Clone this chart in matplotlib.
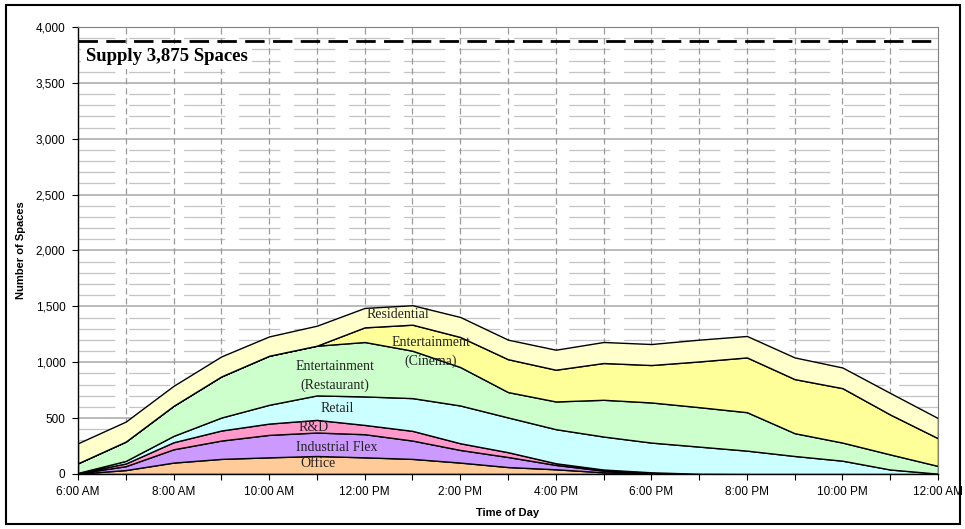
import numpy as np
import matplotlib.pyplot as plt
from matplotlib.patches import Rectangle
from matplotlib.ticker import FuncFormatter, MultipleLocator

# hours from 6 AM (6) to 12 AM (24)
hours = list(range(6, 25))
office = [3, 35, 102, 135, 149, 161, 149, 135, 102, 62, 42, 15, 8, 0, 0, 0, 0, 0, 0]
industrial_flex = [3, 35, 119, 164, 201, 210, 207, 164, 113, 90, 39, 15, 4, 0, 0, 0, 0, 0, 0]
r_and_d = [2, 24, 63, 90, 101, 113, 83, 87, 60, 43, 15, 10, 3, 2, 0, 0, 0, 0, 0]
retail = [2, 23, 57, 116, 168, 219, 255, 293, 338, 311, 305, 295, 266, 243, 209, 161, 119, 40, 3]
ent_restaurant = [86, 173, 269, 368, 439, 445, 487, 424, 344, 227, 248, 329, 359, 353, 344, 204, 162, 135, 69]
ent_cinema = [0, 0, 0, 0, 0, 0, 131, 233, 269, 294, 284, 329, 335, 409, 490, 484, 487, 357, 248]
residential = [179, 179, 179, 179, 173, 179, 174, 174, 179, 175, 179, 188, 188, 195, 192, 194, 185, 193, 180]
supply = 3875

x_labels = ['6:00 AM', '8:00 AM', '10:00 AM', '12:00 PM', '2:00 PM', '4:00 PM',
            '6:00 PM', '8:00 PM', '10:00 PM', '12:00 AM']

colors = ['#FFCC99', '#CC99FF', '#FF99CC', '#CCFFFF', '#CCFFCC', '#FFFF99', '#FFFFCC']

fig = plt.figure(figsize=(9.65, 5.29), dpi=100)
ax = fig.add_axes([0.0808, 0.104, 0.8912, 0.845])

# grid: light broken minor lines every 100, solid gray every 500, dashed verticals each hour
for v in range(100, 4000, 100):
    if v % 500:
        ax.axhline(v, color='#c4c4c4', lw=0.9, ls=(3.5, (33, 11)), zorder=0)
    else:
        ax.axhline(v, color='#a8a8a8', lw=1.1, zorder=0)
for h in hours[1:-1]:
    ax.axvline(h, color='#9a9a9a', lw=0.9, ls=(0, (5, 3)), zorder=0.5)

ax.stackplot(hours, office, industrial_flex, r_and_d, retail, ent_restaurant,
             ent_cinema, residential, colors=colors, edgecolor='black', linewidth=1.0, zorder=2)

ax.axhline(supply, color='black', lw=2, ls=(0, (7, 3)), zorder=3)
ax.text(6.16, 3735, 'Supply 3,875 Spaces', family='Liberation Serif', fontweight='bold',
        fontsize=13.5, va='center', ha='left', zorder=4,
        bbox=dict(facecolor='white', edgecolor='none', pad=3))

lbl = dict(family='Liberation Serif', fontsize=10, ha='center', va='center', color='#222222', zorder=5)
ax.text(11.02, 90, 'Office', **lbl)
ax.text(11.42, 233, 'Industrial Flex', **lbl)
ax.text(10.94, 413, 'R&D', **lbl)
ax.text(11.42, 583, 'Retail', **lbl)
ax.text(11.38, 875, 'Entertainment\n(Restaurant)', linespacing=1.5, **lbl)
ax.text(13.39, 1090, 'Entertainment\n(Cinema)', linespacing=1.5, **lbl)
ax.text(12.69, 1426, 'Residential', **lbl)

ax.set_xlim(6, 24)
ax.set_ylim(0, 4000)
ax.set_xticks(range(6, 25, 2))
ax.set_xticklabels(x_labels)
ax.xaxis.set_minor_locator(MultipleLocator(1))
ax.yaxis.set_major_locator(MultipleLocator(500))
ax.yaxis.set_major_formatter(FuncFormatter(lambda v, p: format(int(v), ',')))
ax.tick_params(axis='both', which='both', direction='out', length=4, width=0.8,
               labelsize=8.5, pad=5)
for t in ax.get_xticklabels() + ax.get_yticklabels():
    t.set_family('Liberation Sans')

ax.set_xlabel('Time of Day', family='Liberation Sans', fontweight='bold', fontsize=8, labelpad=7)
ax.set_ylabel('Number of Spaces', family='Liberation Sans', fontweight='bold', fontsize=8, labelpad=7)

for s in ['top', 'right']:
    ax.spines[s].set_color('#808080')
for s in ['left', 'bottom']:
    ax.spines[s].set_color('black')
    ax.spines[s].set_linewidth(1.0)

fig.patches.append(Rectangle((0.006, 0.01), 0.989, 0.98, transform=fig.transFigure,
                             fill=False, edgecolor='black', lw=1.5))

plt.savefig('out.png', dpi=100)
